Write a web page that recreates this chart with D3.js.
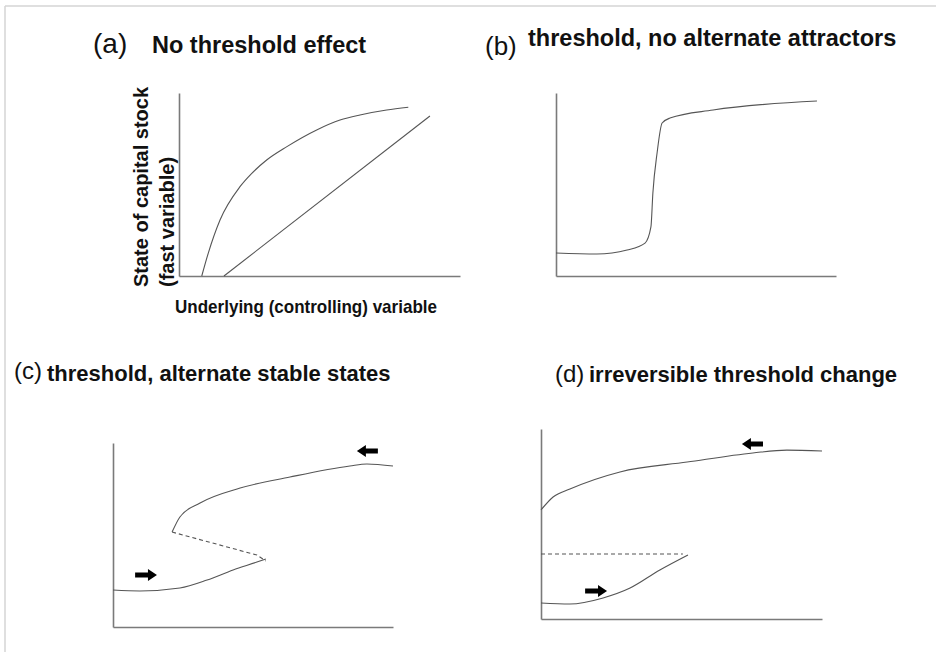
<!DOCTYPE html>
<html><head><meta charset="utf-8">
<script src="https://cdn.jsdelivr.net/npm/d3@7"></script>
<style>body{margin:0;background:#fff;} svg{display:block;} text{font-family:"Liberation Sans",Arial,sans-serif;fill:#111;}</style>
</head><body>
<svg id="c" width="936" height="652"></svg>
<script>
// ---- data (each panel uses a 0-100 x 0-100 domain) ----
const panelLetters = ["(a)", "(b)", "(c)", "(d)"];
const panelTitles = ["No threshold effect", "threshold, no alternate attractors", "threshold, alternate stable states", "irreversible threshold change"];
const yLabelLines = ["State of capital stock", "(fast variable)"];
const xLabel = "Underlying (controlling) variable";

const aCurve = [[8.1,0],[10.4,12.4],[14.6,30.6],[21.7,48.8],[25.9,56.1],[31.2,63.4],[38.4,70.7],[49.0,79.8],[57.3,85.2],[64.4,88.0],[73.9,90.7],[81.6,92.2]];
const aLine = [[16,0],[89.3,87.4]];
const bCurve = [[0,12.6],[14.6,12.0],[25.4,14.2],[31.8,18.0],[33.9,26.8],[34.6,45.4],[36.1,67.2],[37.9,83.6],[40.7,86.3],[56.1,90.7],[93.2,95.6]];
const cUpper = [[21.1,51.6],[23.9,59.8],[31.1,67.4],[45.4,75.5],[63.2,81.5],[84.6,87.5],[90.7,88.6],[100,87.5]];
const cDashed = [[21.1,51.6],[51.4,39.1],[54.6,35.9]];
const cLower = [[0,20.1],[9.6,19.6],[23.9,21.2],[33.6,25.5],[42.9,31.0],[51.4,35.3],[54.6,37.0]];
const cArrows = [{x0:7.9,x1:15.7,y:28.3,dir:1},{x0:87.1,x1:94.6,y:95.7,dir:-1}];
const dUpper = [[0,57.4],[4.3,64.2],[10.3,68.4],[28.1,77.4],[52,82.6],[75.4,87.4],[87.5,88.9],[100,88.4]];
const dDashed = [[0,34.2],[50.5,34.2]];
const dLower = [[0,8.4],[10.3,7.9],[22.1,11.1],[31.7,16.3],[42.3,25.8],[52.3,33.7]];
const dArrows = [{x0:15.7,x1:23.5,y:14.7,dir:1},{x0:71.5,x1:79,y:92.1,dir:-1}];

const svg = d3.select("#c");
// frame
svg.append("line").attr("x1",5).attr("y1",6).attr("x2",936).attr("y2",6).attr("stroke","#d4d4d4").attr("stroke-width",1.5);
svg.append("line").attr("x1",5).attr("y1",6).attr("x2",5).attr("y2",652).attr("stroke","#d4d4d4").attr("stroke-width",1.5);

const boxes = [
  {l:179,r:460,t:93,b:276},
  {l:556,r:836,t:93,b:276},
  {l:113,r:393,t:443,b:627},
  {l:541,r:822,t:429,b:619}
];
const scales = boxes.map(bx => ({x:d3.scaleLinear().domain([0,100]).range([bx.l,bx.r]), y:d3.scaleLinear().domain([0,100]).range([bx.b,bx.t])}));

// axes
scales.forEach((s,i) => {
  const g = svg.append("g");
  g.append("g").attr("transform",`translate(0,${s.y(0)})`).call(d3.axisBottom(s.x).tickValues([]).tickSizeOuter(0));
  g.append("g").attr("transform",`translate(${s.x(0)},0)`).call(d3.axisLeft(s.y).tickValues([]).tickSizeOuter(0));
  g.selectAll(".domain").attr("stroke","#7a7a7a").attr("stroke-width",1.6);
});

function drawLine(i, pts, curve, dashed){
  const s = scales[i];
  const gen = d3.line().x(d=>s.x(d[0])).y(d=>s.y(d[1])).curve(curve);
  svg.append("path").attr("d",gen(pts)).attr("fill","none").attr("stroke","#555").attr("stroke-width",1.1)
    .attr("stroke-dasharray", dashed ? "4,3" : null);
}
drawLine(0, aCurve, d3.curveMonotoneX);
drawLine(0, aLine, d3.curveLinear);
drawLine(1, bCurve, d3.curveMonotoneX);
drawLine(2, cUpper, d3.curveMonotoneX);
drawLine(2, cDashed, d3.curveLinear, true);
drawLine(2, cLower, d3.curveMonotoneX);
drawLine(3, dUpper, d3.curveMonotoneX);
drawLine(3, dDashed, d3.curveLinear, true);
drawLine(3, dLower, d3.curveMonotoneX);

function drawArrow(i, a){
  const s = scales[i];
  const xa = s.x(a.x0), xb = s.x(a.x1), y = s.y(a.y);
  const tail = a.dir>0 ? xa : xb, tip = a.dir>0 ? xb : xa;
  const head = 9*a.dir;
  const p = [[tail,y-2.5],[tip-head,y-2.5],[tip-head,y-6],[tip,y],[tip-head,y+6],[tip-head,y+2.5],[tail,y+2.5]];
  svg.append("path").attr("d","M"+p.map(q=>q.join(",")).join("L")+"Z").attr("fill","#000");
}
cArrows.forEach(a=>drawArrow(2,a));
dArrows.forEach(a=>drawArrow(3,a));

// titles
const letterPos = [{x:93,y:53,fs:28},{x:485,y:55,fs:26},{x:14,y:379,fs:24},{x:555,y:382,fs:24}];
const titlePos = [{x:152,y:53,fs:23.5},{x:528,y:46,fs:23.5},{x:47,y:381,fs:22},{x:589,y:382,fs:22}];
letterPos.forEach((p,i)=>svg.append("text").attr("x",p.x).attr("y",p.y).attr("font-size",p.fs).text(panelLetters[i]));
titlePos.forEach((p,i)=>svg.append("text").attr("x",p.x).attr("y",p.y).attr("font-size",p.fs).attr("font-weight","bold").text(panelTitles[i]));

// axis labels (panel a)
svg.append("text").attr("transform","translate(148,287) rotate(-90)").attr("font-size",20).attr("font-weight","bold").text(yLabelLines[0]);
svg.append("text").attr("transform","translate(174,287) rotate(-90)").attr("font-size",20).attr("font-weight","bold").text(yLabelLines[1]);
svg.append("text").attr("x",175).attr("y",313).attr("font-size",19).attr("font-weight","bold")
  .attr("textLength",262).attr("lengthAdjust","spacingAndGlyphs").text(xLabel);
</script>
</body></html>
